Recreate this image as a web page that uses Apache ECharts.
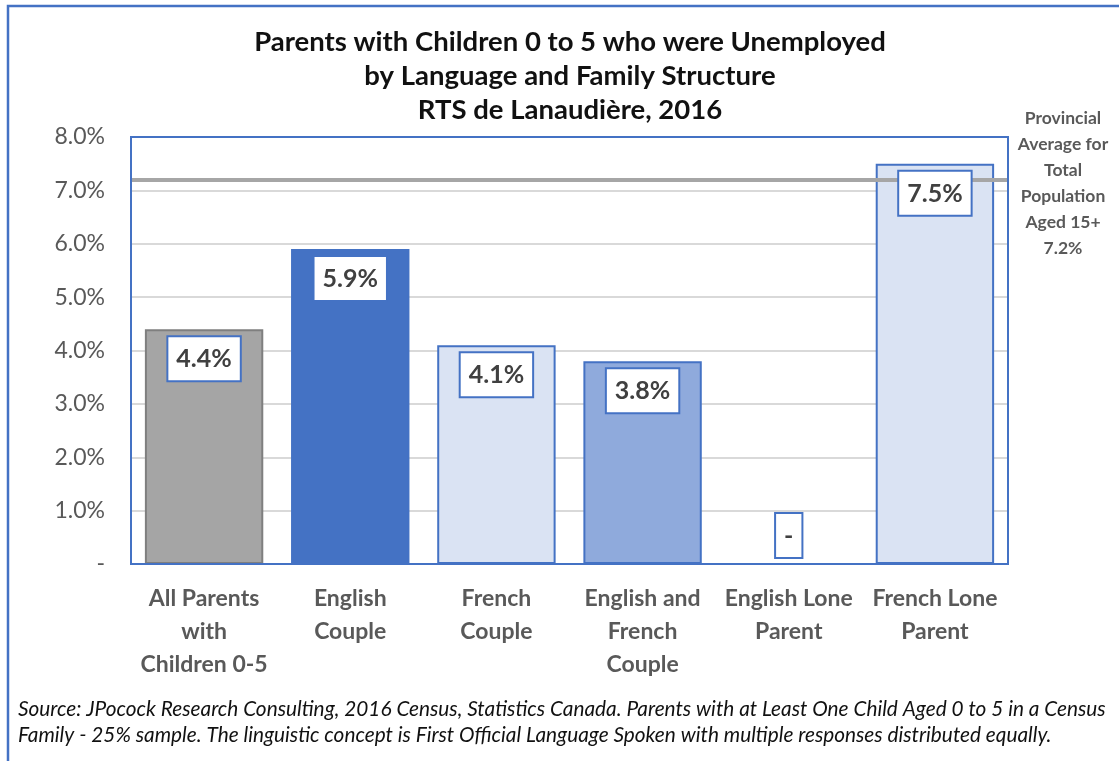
<!DOCTYPE html>
<html>
<head>
<meta charset="utf-8">
<script src="https://cdn.jsdelivr.net/npm/echarts@6/dist/echarts.min.js"></script>
<style>
html,body{margin:0;padding:0;background:#fff;}
#c{width:1119px;height:761px;}
</style>
</head>
<body>
<div id="c"></div>
<script>
const titleLines = ['Parents with Children 0 to 5 who were Unemployed', 'by Language and Family Structure', 'RTS de Lanaudière, 2016'];
const categories = ['All Parents\nwith\nChildren 0-5', 'English\nCouple', 'French\nCouple', 'English and\nFrench\nCouple', 'English Lone\nParent', 'French Lone\nParent'];
const values = [4.4, 5.9, 4.1, 3.8, 0, 7.5];
const yTicks = [0, 1, 2, 3, 4, 5, 6, 7, 8];
const provincialAverage = 7.2;
const averageLabel = ['Provincial', 'Average for', 'Total', 'Population', 'Aged 15+'];
const sourceLines = ['Source: JPocock Research Consulting, 2016 Census, Statistics Canada. Parents with at Least One Child Aged 0 to 5 in a Census', 'Family - 25% sample. The linguistic concept is First Official Language Spoken with multiple responses distributed equally.'];

const barStyles = [
  {color: '#a5a5a5', borderColor: '#7f7f7f'},
  {color: '#4472c4', borderColor: '#4472c4'},
  {color: '#dae3f3', borderColor: '#4472c4'},
  {color: '#8faadc', borderColor: '#4472c4'},
  {color: '#dae3f3', borderColor: '#4472c4'},
  {color: '#dae3f3', borderColor: '#4472c4'}
];

const FONT = 'Lato, "Noto Sans", sans-serif';
const fmt = v => v === 0 ? '-' : v.toFixed(1) + '%';

const chart = echarts.init(document.getElementById('c'));
const barData = values.map((v, i) => ({
  value: v,
  itemStyle: {color: barStyles[i].color, borderColor: barStyles[i].borderColor, borderWidth: v === 0 ? 0 : 2}
}));
const labelData = values.map(v => {
  const d = {value: v};
  if (v === 0) d.label = {position: 'insideBottom', distance: 7};
  return d;
});

chart.setOption({
  animation: false,
  title: {
    text: titleLines.join('\n'),
    left: 565,
    textAlign: 'center',
    top: 20,
    textStyle: {fontFamily: FONT, fontSize: 27.5, fontWeight: 'bold', color: '#111', lineHeight: 34}
  },
  grid: {left: 131, right: 111, top: 137, bottom: 197, show: false},
  xAxis: {
    type: 'category',
    data: categories,
    axisLine: {show: false},
    axisTick: {show: false},
    axisLabel: {fontFamily: FONT, fontSize: 23, fontWeight: 'bold', color: '#595959', lineHeight: 33, margin: 18, interval: 0}
  },
  yAxis: {
    type: 'value',
    min: yTicks[0],
    max: yTicks[yTicks.length - 1],
    interval: 1,
    axisLine: {show: false},
    axisTick: {show: false},
    splitLine: {showMinLine: false, showMaxLine: false, lineStyle: {color: '#d9d9d9', width: 2}},
    axisLabel: {fontFamily: FONT, fontSize: 23, color: '#595959', margin: 26, formatter: fmt}
  },
  series: [
    {
      type: 'bar',
      z: 1,
      data: barData,
      barCategoryGap: '19%',
      label: {show: false}
    },
    {
      type: 'line',
      z: 2,
      data: [],
      markLine: {
        z: 2,
        silent: true,
        symbol: ['none', 'none'],
        data: [{yAxis: provincialAverage}],
        lineStyle: {color: '#a6a6a6', width: 4, type: 'solid'},
        label: {
          show: true,
          position: 'end',
          distance: 55,
          align: 'center',
          offset: [0, 4],
          formatter: () => averageLabel.join('\n') + '\n' + fmt(provincialAverage),
          fontFamily: FONT, fontSize: 17.5, fontWeight: 'bold', color: '#595959', lineHeight: 26
        }
      }
    },
    {
      type: 'bar',
      z: 4,
      data: labelData,
      barGap: '-100%',
      barCategoryGap: '19%',
      itemStyle: {color: 'rgba(0,0,0,0)', borderWidth: 0},
      label: {
        show: true,
        position: 'insideTop',
        distance: 8,
        formatter: p => fmt(p.value),
        fontFamily: FONT, fontSize: 25, fontWeight: 'bold', color: '#404040',
        backgroundColor: '#fff', borderColor: '#4472c4', borderWidth: 2,
        padding: [9, 8, 8, 8], lineHeight: 26
      }
    }
  ],
  graphic: [
    {type: 'rect', z: 10, shape: {x: 131, y: 137, width: 877, height: 427}, style: {fill: 'none', stroke: '#4472c4', lineWidth: 2}, silent: true},
    {type: 'rect', shape: {x: 8, y: 6, width: 1200, height: 900}, style: {fill: 'none', stroke: '#4472c4', lineWidth: 2.5}, silent: true},
    {type: 'text', left: 18, top: 696, style: {text: sourceLines.join('\n'), fontFamily: FONT, fontSize: 20.8, fontStyle: 'italic', fill: '#111', lineHeight: 26}}
  ]
});
</script>
</body>
</html>
